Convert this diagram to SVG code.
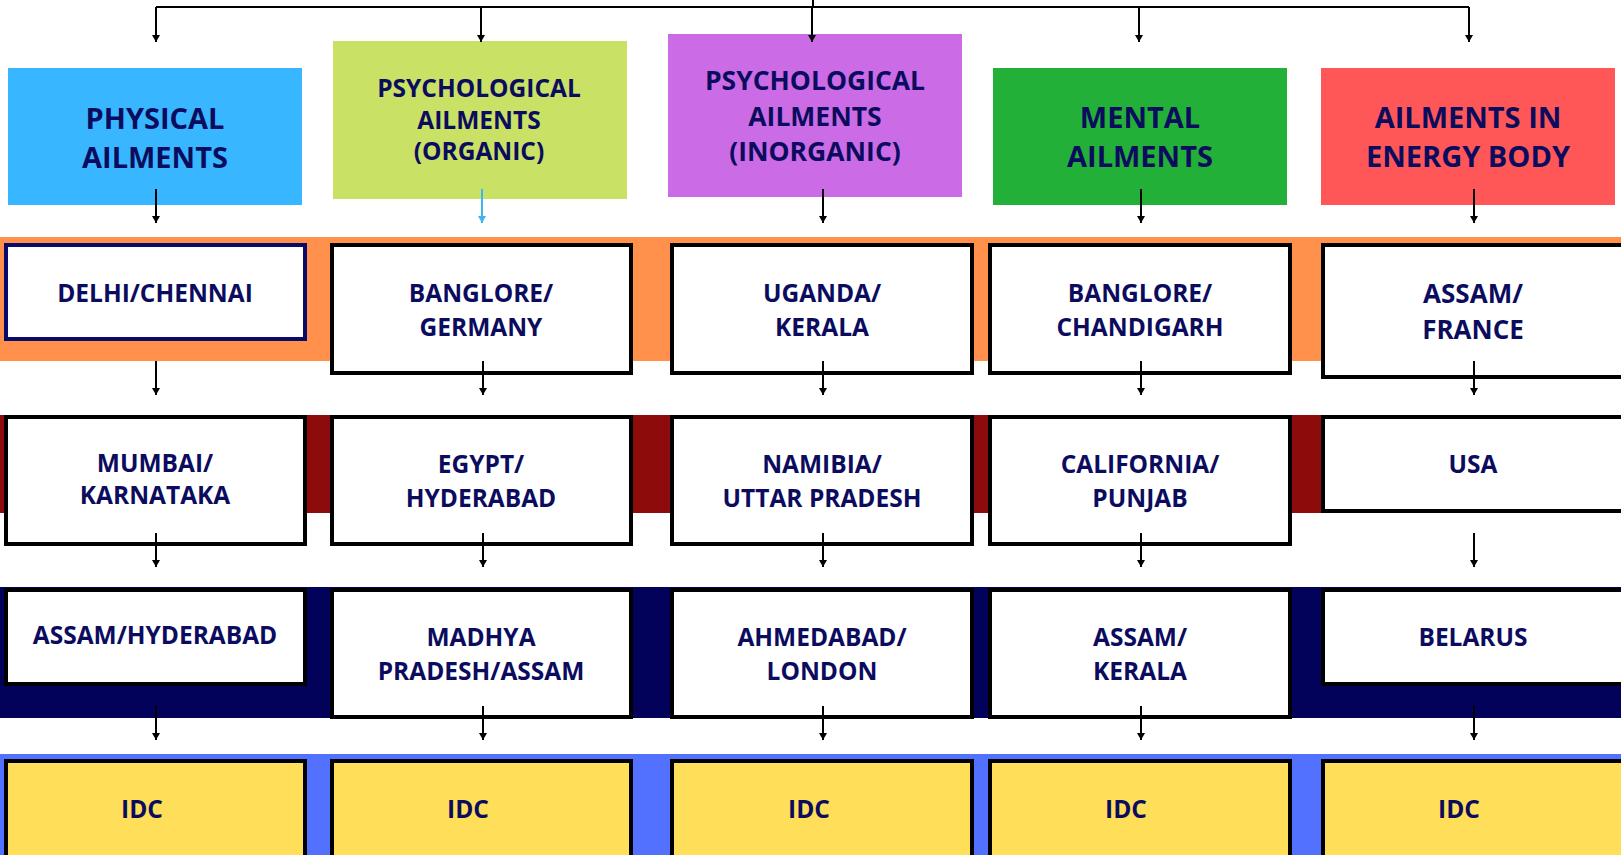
<svg xmlns="http://www.w3.org/2000/svg" width="1621" height="855" viewBox="0 0 1621 855">
<style>
.t{font-family:"Open Sans","Liberation Sans",sans-serif;font-weight:bold;fill:#0c0c5e;text-anchor:middle}
.h{font-size:29px}
.s{font-size:24.5px}
.p{font-size:25px}
.b{fill:#ffffff;stroke:#000000;stroke-width:4}
.y{fill:#ffde59;stroke:#000000;stroke-width:4}
.c{stroke:#000000;stroke-width:2;fill:none}
</style>
<defs>
<marker id="ah" viewBox="0 0 8 7" refX="4" refY="7" markerWidth="8" markerHeight="7" markerUnits="userSpaceOnUse" orient="auto-start-reverse">
<path d="M0,0 L8,0 L4,7 Z" fill="#000000" transform="rotate(-90 4 3.5)"/>
</marker>
<marker id="a" viewBox="0 0 7 8" refX="7" refY="4" markerWidth="7" markerHeight="8" markerUnits="userSpaceOnUse" orient="auto">
<path d="M0,0 L7,4 L0,8 Z" fill="#000000"/>
</marker>
<marker id="ab" viewBox="0 0 7 8" refX="7" refY="4" markerWidth="7" markerHeight="8" markerUnits="userSpaceOnUse" orient="auto">
<path d="M0,0 L7,4 L0,8 Z" fill="#3fb4f2"/>
</marker>
</defs>
<rect width="1621" height="855" fill="#ffffff"/>
<g id="bands">
<rect x="0" y="237" width="1621" height="124" fill="#ff914d"/>
<rect x="0" y="415" width="1621" height="98" fill="#8e0b0b"/>
<rect x="0" y="587" width="1621" height="131" fill="#02025a"/>
<rect x="0" y="754" width="1621" height="101" fill="#5271ff"/>
</g>
<g id="header-physical">
<rect x="8" y="68" width="294" height="137" fill="#38b6ff"/>
<text class="t h" x="155" y="129">PHYSICAL</text>
<text class="t h" x="155" y="168">AILMENTS</text>
</g>
<g id="header-psych-organic">
<rect x="333" y="41" width="294" height="158" fill="#c9e265"/>
<text class="t s" x="479" y="97">PSYCHOLOGICAL</text>
<text class="t s" x="479" y="129">AILMENTS</text>
<text class="t s" x="479" y="160">(ORGANIC)</text>
</g>
<g id="header-psych-inorganic">
<rect x="668" y="34" width="294" height="163" fill="#cb6ce6"/>
<text class="t" style="font-size:26.5px" x="815" y="90">PSYCHOLOGICAL</text>
<text class="t" style="font-size:26.5px" x="815" y="126">AILMENTS</text>
<text class="t" style="font-size:26.5px" x="815" y="161">(INORGANIC)</text>
</g>
<g id="header-mental">
<rect x="993" y="68" width="294" height="137" fill="#22b038"/>
<text class="t h" x="1140" y="128">MENTAL</text>
<text class="t h" x="1140" y="167">AILMENTS</text>
</g>
<g id="header-energy">
<rect x="1321" y="68" width="294" height="137" fill="#ff5757"/>
<text class="t h" x="1468" y="128">AILMENTS IN</text>
<text class="t h" x="1468" y="167">ENERGY BODY</text>
</g>
<g id="delhi-chennai">
<rect x="6" y="245" width="299" height="94" fill="#ffffff" stroke="#0a0a6a" stroke-width="4"/>
<text class="t s" x="155" y="302">DELHI/CHENNAI</text>
</g>
<g id="banglore-germany">
<rect class="b" x="332" y="245" width="299" height="128"/>
<text class="t s" x="481" y="302">BANGLORE/</text>
<text class="t s" x="481" y="336">GERMANY</text>
</g>
<g id="uganda-kerala">
<rect class="b" x="672" y="245" width="300" height="128"/>
<text class="t s" x="822" y="302">UGANDA/</text>
<text class="t s" x="822" y="336">KERALA</text>
</g>
<g id="banglore-chandigarh">
<rect class="b" x="990" y="245" width="300" height="128"/>
<text class="t s" x="1140" y="302">BANGLORE/</text>
<text class="t s" x="1140" y="336">CHANDIGARH</text>
</g>
<g id="assam-france">
<rect class="b" x="1323" y="245" width="302" height="132"/>
<text class="t" style="font-size:26px" x="1473" y="303">ASSAM/</text>
<text class="t" style="font-size:26px" x="1473" y="339">FRANCE</text>
</g>
<g id="mumbai-karnataka">
<rect class="b" x="6" y="417" width="299" height="127"/>
<text class="t s" x="155" y="472">MUMBAI/</text>
<text class="t s" x="155" y="504">KARNATAKA</text>
</g>
<g id="egypt-hyderabad">
<rect class="b" x="332" y="417" width="299" height="127"/>
<text class="t s" x="481" y="473">EGYPT/</text>
<text class="t s" x="481" y="507">HYDERABAD</text>
</g>
<g id="namibia-up">
<rect class="b" x="672" y="417" width="300" height="127"/>
<text class="t s" x="822" y="473">NAMIBIA/</text>
<text class="t s" x="822" y="507">UTTAR PRADESH</text>
</g>
<g id="california-punjab">
<rect class="b" x="990" y="417" width="300" height="127"/>
<text class="t s" x="1140" y="473">CALIFORNIA/</text>
<text class="t s" x="1140" y="507">PUNJAB</text>
</g>
<g id="usa">
<rect class="b" x="1323" y="417" width="302" height="94"/>
<text class="t s" x="1473" y="473">USA</text>
</g>
<g id="assam-hyderabad">
<rect class="b" x="6" y="590" width="299" height="94"/>
<text class="t s" x="155" y="644">ASSAM/HYDERABAD</text>
</g>
<g id="madhya-pradesh-assam">
<rect class="b" x="332" y="590" width="299" height="127"/>
<text class="t s" x="481" y="646">MADHYA</text>
<text class="t s" x="481" y="680">PRADESH/ASSAM</text>
</g>
<g id="ahmedabad-london">
<rect class="b" x="672" y="590" width="300" height="127"/>
<text class="t s" x="822" y="646">AHMEDABAD/</text>
<text class="t s" x="822" y="680">LONDON</text>
</g>
<g id="assam-kerala">
<rect class="b" x="990" y="590" width="300" height="127"/>
<text class="t s" x="1140" y="646">ASSAM/</text>
<text class="t s" x="1140" y="680">KERALA</text>
</g>
<g id="belarus">
<rect class="b" x="1323" y="590" width="302" height="94"/>
<text class="t s" x="1473" y="646">BELARUS</text>
</g>
<g id="idc-1">
<rect class="y" x="6" y="761" width="299" height="110"/>
<text class="t s" x="142" y="818">IDC</text>
</g>
<g id="idc-2">
<rect class="y" x="332" y="761" width="299" height="110"/>
<text class="t s" x="468" y="818">IDC</text>
</g>
<g id="idc-3">
<rect class="y" x="672" y="761" width="300" height="110"/>
<text class="t s" x="809" y="818">IDC</text>
</g>
<g id="idc-4">
<rect class="y" x="990" y="761" width="300" height="110"/>
<text class="t s" x="1126" y="818">IDC</text>
</g>
<g id="idc-5">
<rect class="y" x="1323" y="761" width="302" height="110"/>
<text class="t s" x="1459" y="818">IDC</text>
</g>
<g id="connectors">
<path class="c" d="M813,0 V7 M156,7 H1469"/>
<path class="c" d="M156,7 V42" marker-end="url(#a)"/>
<path class="c" d="M481,7 V42" marker-end="url(#a)"/>
<path class="c" d="M812,7 V42" marker-end="url(#a)"/>
<path class="c" d="M1139,7 V42" marker-end="url(#a)"/>
<path class="c" d="M1469,7 V42" marker-end="url(#a)"/>
<path class="c" d="M156,189 V223" marker-end="url(#a)"/>
<path class="c" d="M482,189 V223" stroke="#3fb4f2" style="stroke:#3fb4f2" marker-end="url(#ab)"/>
<path class="c" d="M823,189 V223" marker-end="url(#a)"/>
<path class="c" d="M1141,189 V223" marker-end="url(#a)"/>
<path class="c" d="M1474,189 V223" marker-end="url(#a)"/>
<path class="c" d="M156,361 V395" marker-end="url(#a)"/>
<path class="c" d="M483,361 V395" marker-end="url(#a)"/>
<path class="c" d="M823,361 V395" marker-end="url(#a)"/>
<path class="c" d="M1141,361 V395" marker-end="url(#a)"/>
<path class="c" d="M1474,361 V395" marker-end="url(#a)"/>
<path class="c" d="M156,533 V567" marker-end="url(#a)"/>
<path class="c" d="M483,533 V567" marker-end="url(#a)"/>
<path class="c" d="M823,533 V567" marker-end="url(#a)"/>
<path class="c" d="M1141,533 V567" marker-end="url(#a)"/>
<path class="c" d="M1474,533 V567" marker-end="url(#a)"/>
<path class="c" d="M156,706 V740" marker-end="url(#a)"/>
<path class="c" d="M483,706 V740" marker-end="url(#a)"/>
<path class="c" d="M823,706 V740" marker-end="url(#a)"/>
<path class="c" d="M1141,706 V740" marker-end="url(#a)"/>
<path class="c" d="M1474,706 V740" marker-end="url(#a)"/>
</g>
</svg>
